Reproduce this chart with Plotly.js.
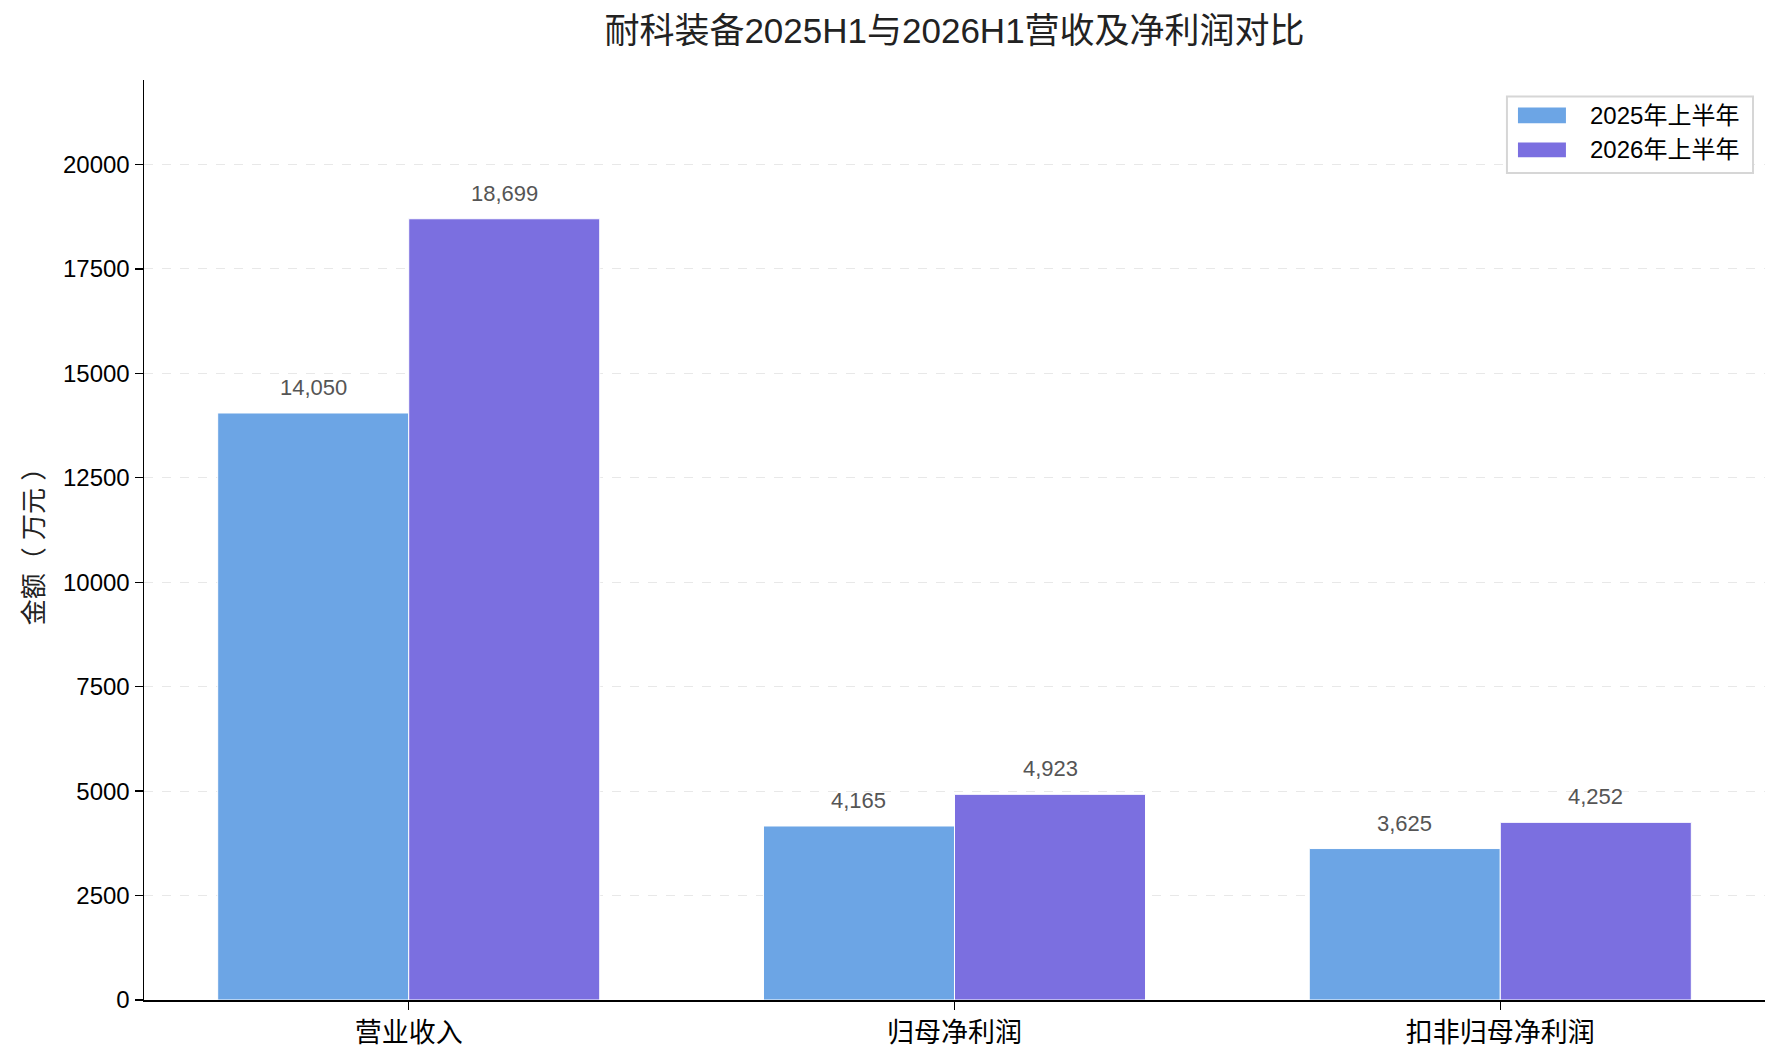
<!DOCTYPE html>
<html>
<head>
<meta charset="utf-8">
<script src="https://cdn.plot.ly/plotly-3.0.1.min.js"></script>
<style>
  body { margin: 0; background: #fff; }
  #chart { width: 1782px; height: 1063px; }
</style>
</head>
<body>
<div id="chart"></div>
<script>
// Data
var categories = ['营业收入', '归母净利润', '扣非归母净利润'];
var seriesNames = ['2025年上半年', '2026年上半年'];
var values2025 = [14050, 4165, 3625];
var values2026 = [18699, 4923, 4252];
var yTicks = [0, 2500, 5000, 7500, 10000, 12500, 15000, 17500, 20000];

var fontLatin = '"Liberation Sans", Arial, "Noto Sans CJK SC", sans-serif';
var colors = ['#6CA5E5', '#7B6FE0'];

var traces = [values2025, values2026].map(function (vals, i) {
    return {
        type: 'bar',
        name: seriesNames[i],
        x: categories,
        y: vals,
        marker: { color: colors[i], line: { color: '#ffffff', width: 1 } },
        hoverinfo: 'none',
        showlegend: false
    };
});

// Value labels above each bar
var annotations = [];
[values2025, values2026].forEach(function (vals, s) {
    vals.forEach(function (v, i) {
        annotations.push({
            x: i + (s === 0 ? -0.175 : 0.175),
            y: v,
            xref: 'x', yref: 'y',
            text: v.toLocaleString('en-US'),
            showarrow: false,
            yanchor: 'bottom',
            yshift: 11,
            font: { family: fontLatin, size: 22, color: '#555555' }
        });
    });
});

// Legend drawn by hand so the swatches are wide rectangles like matplotlib's
var shapes = [{
    type: 'rect', xref: 'paper', yref: 'paper',
    x0: 0.8408, x1: 0.9926, y0: 0.8989, y1: 0.9820,
    line: { color: '#d6d6d6', width: 2 }, fillcolor: '#ffffff', layer: 'above'
}];
var legendRows = [[0.9530, 0.9700], [0.9160, 0.9320]];
seriesNames.forEach(function (name, i) {
    shapes.push({
        type: 'rect', xref: 'paper', yref: 'paper',
        x0: 0.8476, x1: 0.8772, y0: legendRows[i][0], y1: legendRows[i][1],
        line: { width: 0 }, fillcolor: colors[i], layer: 'above'
    });
    annotations.push({
        xref: 'paper', yref: 'paper',
        x: 0.8905, y: (legendRows[i][0] + legendRows[i][1]) / 2,
        xanchor: 'left', yanchor: 'middle',
        text: name, showarrow: false,
        font: { family: fontLatin, size: 24, color: '#000000' }
    });
});

var layout = {
    width: 1782,
    height: 1063,
    margin: { l: 144, r: 17, t: 80, b: 63 },
    paper_bgcolor: '#ffffff',
    plot_bgcolor: '#ffffff',
    font: { family: fontLatin, color: '#000000' },
    title: {
        text: '耐科装备2025H1与2026H1营收及净利润对比',
        font: { family: fontLatin, size: 35, color: '#222222' },
        x: 0.5, xref: 'paper',
        y: 0.971, yref: 'container', yanchor: 'middle'
    },
    barmode: 'group',
    bargap: 0.3,
    bargroupgap: 0,
    showlegend: false,
    xaxis: {
        type: 'category',
        range: [-0.485, 2.485],
        showline: true, linecolor: '#000000', linewidth: 1.5,
        ticks: 'outside', ticklen: 8, tickwidth: 1.3, tickcolor: '#000000',
        tickfont: { family: fontLatin, size: 27, color: '#000000' },
        showgrid: false,
        zeroline: false
    },
    yaxis: {
        range: [0, 22020],
        tickvals: yTicks,
        ticktext: yTicks.map(String),
        showline: true, linecolor: '#000000', linewidth: 1.5,
        ticks: 'outside', ticklen: 8, tickwidth: 1.3, tickcolor: '#000000',
        tickfont: { family: fontLatin, size: 24, color: '#000000' },
        showgrid: true, gridcolor: '#e8e8e8', gridwidth: 1, griddash: 'dash',
        zeroline: false,
        title: {
            text: '金额（ 万元 ）',
            font: { family: fontLatin, size: 26, color: '#222222' },
            standoff: 12
        }
    },
    shapes: shapes,
    annotations: annotations
};

Plotly.newPlot('chart', traces, layout, { displayModeBar: false, staticPlot: true });
</script>
</body>
</html>
